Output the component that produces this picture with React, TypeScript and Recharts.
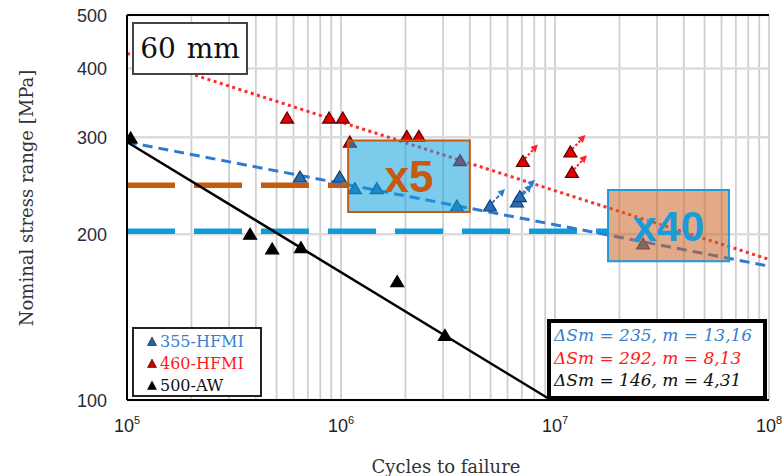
import React from "react";
import {
  ScatterChart,
  Scatter,
  XAxis,
  YAxis,
  CartesianGrid,
  ReferenceLine,
  ReferenceArea,
} from "recharts";

const SERIF = "'DejaVu Serif', 'Liberation Serif', serif";
const SANS = "'Liberation Sans', Arial, sans-serif";

// grid / tick positions
const xTicks = [
  100000, 200000, 300000, 400000, 500000, 600000, 700000, 800000, 900000,
  1000000, 2000000, 3000000, 4000000, 5000000, 6000000, 7000000, 8000000, 9000000,
  10000000, 20000000, 30000000, 40000000, 50000000, 60000000, 70000000, 80000000, 90000000,
  100000000,
];
const xLabelTicks: Record<number, string> = { 100000: "5", 1000000: "6", 10000000: "7", 100000000: "8" };
const yTicks = [100, 200, 300, 400, 500];

// test results (cycles, stress range)
const aw500 = [
  { x: 104000, y: 299 },
  { x: 376000, y: 200 },
  { x: 477000, y: 188 },
  { x: 650000, y: 189 },
  { x: 1830000, y: 164 },
  { x: 3060000, y: 131 },
];
const hfmi460 = [
  { x: 560000, y: 325 },
  { x: 880000, y: 325 },
  { x: 1020000, y: 325 },
  { x: 1100000, y: 294 },
  { x: 2030000, y: 301 },
  { x: 2310000, y: 301 },
  { x: 3600000, y: 272 },
  { x: 7080000, y: 271, runout: true },
  { x: 11800000, y: 282, runout: true },
  { x: 12000000, y: 259, runout: true },
];
const hfmi355 = [
  { x: 643000, y: 254 },
  { x: 986000, y: 254 },
  { x: 1160000, y: 242 },
  { x: 1470000, y: 242 },
  { x: 3480000, y: 225 },
  { x: 4970000, y: 225, runout: true },
  { x: 6640000, y: 229, runout: true },
  { x: 6850000, y: 234, runout: true },
  { x: 25800000, y: 192 },
];

// fitted S-N curves
const fit355 = [{ x: 100000, y: 294 }, { x: 100000000, y: 175 }];
const fit460 = [{ x: 100000, y: 426 }, { x: 100000000, y: 180 }];
const fit500 = [{ x: 100000, y: 294 }, { x: 9570000, y: 100 }];

// reference levels and improvement boxes
const level5 = [{ x: 100000, y: 245.5 }, { x: 1080000, y: 245.5 }];
const level40 = [{ x: 100000, y: 202.5 }, { x: 17700000, y: 202.5 }];
const box5 = { x1: 1080000, x2: 4000000, y1: 219.5, y2: 296 };
const box40 = { x1: 17700000, x2: 65000000, y1: 178.6, y2: 240.6 };

const legendRows = [
  { name: "355-HFMI", color: "#3a7fcc", mark: "#2263a8" },
  { name: "460-HFMI", color: "#ff1a1a", mark: "#c80000" },
  { name: "500-AW", color: "#111", mark: "#000" },
];
const fitRows = [
  { text: "ΔSm = 235, m = 13,16", color: "#3a7fcc" },
  { text: "ΔSm = 292, m = 8,13", color: "#ff1a1a" },
  { text: "ΔSm = 146, m = 4,31", color: "#111" },
];

const makeTriangle =
  (fill: string, stroke: string, arrowColor: string, arrowDash: string) =>
  (props: any) => {
    const { cx, cy, payload } = props;
    if (cx == null || cy == null) return null;
    const tri = `${cx},${cy - 6} ${cx + 6.5},${cy + 5} ${cx - 6.5},${cy + 5}`;
    const tx = cx + 15;
    const ty = cy - 17;
    return (
      <g>
        {payload && payload.runout && (
          <g>
            <line
              x1={cx + 2}
              y1={cy - 3}
              x2={tx - 3}
              y2={ty + 3.5}
              stroke={arrowColor}
              strokeWidth={2}
              strokeDasharray={arrowDash}
            />
            <polygon
              points={`${tx},${ty} ${tx - 7.5},${ty + 2.5} ${tx - 2.5},${ty + 8}`}
              fill={arrowColor}
            />
          </g>
        )}
        <polygon points={tri} fill={fill} stroke={stroke} strokeWidth={1.2} />
      </g>
    );
  };

const XTick = (props: any) => {
  const { x, y, payload } = props;
  const exp = xLabelTicks[payload.value];
  if (!exp) return null;
  return (
    <text x={x} y={y + 32} textAnchor="middle" fill="#222" fontFamily={SANS} fontSize={18}>
      <tspan>10</tspan>
      <tspan dy={-8} fontSize={11}>
        {exp}
      </tspan>
    </text>
  );
};

const YTick = (props: any) => {
  const { x, y, payload } = props;
  return (
    <text x={x - 20} y={y + 7} textAnchor="end" fill="#2a2a3a" fontFamily={SANS} fontSize={18}>
      {payload.value}
    </text>
  );
};

export default function App() {
  return (
    <div
      style={{
        position: "absolute",
        left: 0,
        top: 0,
        width: 783,
        height: 476,
        background: "#fff",
      }}
    >
      <ScatterChart
        width={783}
        height={476}
        margin={{ top: 15, right: 14, bottom: 46, left: 0 }}
      >
        <CartesianGrid horizontal={false} stroke="#cfcfcf" strokeWidth={1.8} />
        <CartesianGrid vertical={false} stroke="#dcdcdc" strokeWidth={2.5} />
        <XAxis
          type="number"
          dataKey="x"
          scale="log"
          domain={[100000, 100000000]}
          ticks={xTicks}
          allowDataOverflow
          interval={0}
          height={30}
          tick={<XTick />}
          tickLine={false}
          tickSize={0}
          tickMargin={0}
          axisLine={{ stroke: "#000", strokeWidth: 2 }}
        />
        <YAxis
          type="number"
          dataKey="y"
          scale="log"
          domain={[100, 500]}
          ticks={yTicks}
          allowDataOverflow
          interval={0}
          width={127}
          tick={<YTick />}
          tickLine={false}
          tickSize={0}
          tickMargin={0}
          axisLine={{ stroke: "#000", strokeWidth: 2 }}
        />

        <ReferenceLine
          segment={level5}
          stroke="#c55a11"
          strokeWidth={5.5}
          strokeDasharray="48 19"
        />
        <ReferenceLine
          segment={level40}
          stroke="#0f9bd7"
          strokeWidth={5.5}
          strokeDasharray="48 19"
        />
        <ReferenceLine
          segment={fit460}
          stroke="#ff2a2a"
          strokeWidth={3}
          strokeDasharray="3 3.5"
        />
        <ReferenceLine
          segment={fit355}
          stroke="#2e7bcf"
          strokeWidth={3}
          strokeDasharray="10 6"
        />
        <ReferenceLine segment={fit500} stroke="#000" strokeWidth={2.5} />
        <ReferenceLine y={500} stroke="#000" strokeWidth={2} />

        <Scatter
          name="500-AW"
          data={aw500}
          isAnimationActive={false}
          shape={makeTriangle("#000", "#000", "#000", "none")}
        />
        <Scatter
          name="460-HFMI"
          data={hfmi460}
          isAnimationActive={false}
          shape={makeTriangle("#e00000", "#5a0000", "#ff2020", "2.5 2")}
        />
        <Scatter
          name="355-HFMI"
          data={hfmi355}
          isAnimationActive={false}
          shape={makeTriangle("#2a6db5", "#163f70", "#2e7bcf", "4 2")}
        />

        <ReferenceArea
          {...box5}
          fill="#0fa0dc"
          fillOpacity={0.55}
          stroke="#c55a11"
          strokeWidth={2}
          zIndex={700}
          label={{
            value: "x5",
            position: "center",
            fill: "#c55a11",
            fontSize: 44,
            fontWeight: 700,
            fontFamily: SANS,
          }}
        />
        <ReferenceArea
          {...box40}
          fill="#cc6428"
          fillOpacity={0.55}
          stroke="#1b9bd7"
          strokeWidth={2}
          zIndex={700}
          label={{
            value: "x40",
            position: "center",
            fill: "#1b9bd7",
            fontSize: 43,
            fontWeight: 700,
            fontFamily: SANS,
          }}
        />
      </ScatterChart>

      {/* 60 mm tag */}
      <div
        style={{
          position: "absolute",
          left: 132,
          top: 22,
          width: 116,
          height: 53,
          boxSizing: "border-box",
          border: "2px solid #444",
          background: "#fff",
          fontFamily: SERIF,
          fontSize: 28,
          color: "#111",
          display: "flex",
          alignItems: "center",
          justifyContent: "center",
          wordSpacing: 2,
        }}
      >
        60 mm
      </div>

      {/* series legend */}
      <div
        style={{
          position: "absolute",
          left: 132,
          top: 327,
          width: 130,
          height: 70,
          boxSizing: "border-box",
          border: "2px solid #222",
          background: "#fff",
        }}
      >
        {legendRows.map((r, i) => (
          <div
            key={r.name}
            style={{
              position: "absolute",
              left: 13,
              top: 1 + i * 22,
              height: 22,
              display: "flex",
              alignItems: "center",
              fontFamily: SERIF,
              fontSize: 16,
              color: r.color,
              whiteSpace: "nowrap",
            }}
          >
            <svg width={10} height={9} style={{ marginRight: 3 }}>
              <polygon points="5,0 9.5,8.5 0.5,8.5" fill={r.mark} stroke="#111" strokeWidth={0.6} />
            </svg>
            {r.name}
          </div>
        ))}
      </div>

      {/* fit legend */}
      <div
        style={{
          position: "absolute",
          left: 547,
          top: 319,
          width: 220,
          height: 81,
          boxSizing: "border-box",
          border: "4px solid #000",
          background: "#fff",
        }}
      >
        {fitRows.map((r, i) => (
          <div
            key={r.text}
            style={{
              position: "absolute",
              left: 3,
              top: 1 + i * 22.5,
              height: 22,
              lineHeight: "22px",
              fontFamily: SERIF,
              fontStyle: "italic",
              fontSize: 17,
              color: r.color,
              whiteSpace: "nowrap",
            }}
          >
            {r.text}
          </div>
        ))}
      </div>

      {/* axis titles */}
      <div
        style={{
          position: "absolute",
          left: 26,
          top: 198,
          transform: "translate(-50%, -50%) rotate(-90deg)",
          fontFamily: SERIF,
          fontSize: 18,
          color: "#333",
          whiteSpace: "nowrap",
        }}
      >
        Nominal stress range [MPa]
      </div>
      <div
        style={{
          position: "absolute",
          left: 446,
          top: 466,
          transform: "translate(-50%, -50%)",
          fontFamily: SERIF,
          fontSize: 18,
          color: "#333",
          whiteSpace: "nowrap",
        }}
      >
        Cycles to failure
      </div>
    </div>
  );
}
